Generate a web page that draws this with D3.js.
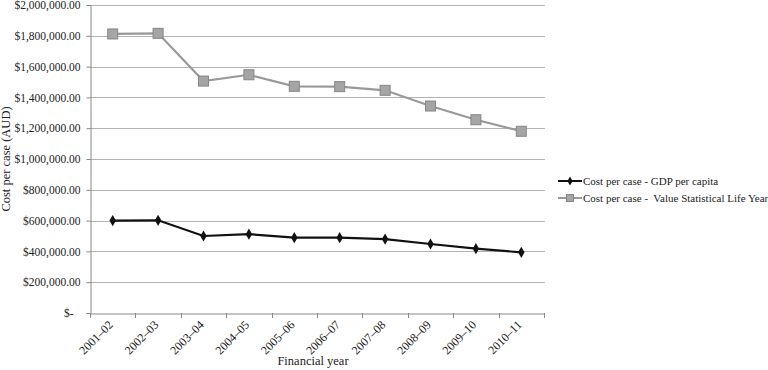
<!DOCTYPE html>
<html><head><meta charset="utf-8">
<script src="https://cdn.jsdelivr.net/npm/d3@7"></script>
<style>body{margin:0;background:#fff;}</style>
</head><body>
<svg id="c" width="768" height="370"></svg>
<script>
const categories = ["2001–02","2002–03","2003–04","2004–05","2005–06","2006–07","2007–08","2008–09","2009–10","2010–11"];
const gdpValues = [600000,602000,500000,512000,489000,489000,480000,448000,418000,394000];
const vslyValues = [1812000,1816000,1506000,1547000,1472000,1470000,1446000,1344000,1255000,1180000];
const yTicks = [0,200000,400000,600000,800000,1000000,1200000,1400000,1600000,1800000,2000000];
const seriesNames = ["Cost per case - GDP per capita","Cost per case -  Value Statistical Life Year"];

(function(){
const FONT = '"Liberation Serif","Times New Roman",serif';
const svg = d3.select("#c");
const pLeft = 90, pRight = 544, pTop = 5, pBottom = 313;
const x = d3.scaleBand().domain(categories).range([pLeft, pRight]);
const y = d3.scaleLinear().domain([0, 2000000]).range([pBottom, pTop]);

// gridlines
svg.append("g").selectAll("line").data(yTicks.filter(d=>d>0)).join("line")
  .attr("x1", pLeft).attr("x2", pRight+1)
  .attr("y1", d=>Math.round(y(d))+0.5).attr("y2", d=>Math.round(y(d))+0.5)
  .attr("stroke", "#b3b3b3").attr("stroke-width", 1);

const fmt = d => d === 0 ? "$-" : "$" + d3.format(",.2f")(d);
const yAxis = svg.append("g").attr("transform", `translate(${pLeft+0.5},0)`)
  .call(d3.axisLeft(y).tickValues(yTicks).tickFormat(fmt).tickSize(4).tickPadding(6));
yAxis.select(".domain").attr("stroke", "#888");
yAxis.selectAll(".tick line").attr("stroke", "#888");
yAxis.selectAll("text").attr("font-size", 11.5).attr("fill", "#222")
  .style("font-family", FONT)
  .filter(d=>d===0).attr("dx", -7);

const xAxis = svg.append("g").attr("transform", `translate(0,${pBottom+0.5})`)
  .call(d3.axisBottom(x).tickSize(0).tickFormat(d=>d));
xAxis.select(".domain").attr("stroke", "#888");
xAxis.selectAll(".tick text")
  .attr("font-size", 12).attr("fill", "#222").style("font-family", FONT)
  .attr("text-anchor", "end").attr("dy", 0)
  .attr("transform", "translate(-1,10) rotate(-45)");
// boundary tick marks
const bounds = categories.map(c=>x(c)).concat([pRight]);
svg.append("g").selectAll("line").data(bounds).join("line")
  .attr("x1", d=>Math.round(d)+0.5).attr("x2", d=>Math.round(d)+0.5)
  .attr("y1", pBottom).attr("y2", pBottom+5).attr("stroke", "#888");

const cx = c => x(c) + x.bandwidth()/2;
const line = d3.line().x((d,i)=>cx(categories[i])).y(d=>y(d));

// VSLY
svg.append("path").datum(vslyValues).attr("d", line).attr("fill","none")
  .attr("stroke","#999").attr("stroke-width",2.2);
svg.append("g").selectAll("rect").data(vslyValues).join("rect")
  .attr("x",(d,i)=>cx(categories[i])-5).attr("y",d=>y(d)-5)
  .attr("width",10).attr("height",10).attr("fill","#a5a5a5").attr("stroke","#868686");

// GDP
svg.append("path").datum(gdpValues).attr("d", line).attr("fill","none")
  .attr("stroke","#111").attr("stroke-width",2.2);
const diamond = d3.symbol().type(d3.symbolDiamond).size(36);
svg.append("g").selectAll("path").data(gdpValues).join("path")
  .attr("d", diamond).attr("transform",(d,i)=>`translate(${cx(categories[i])},${y(d)})`)
  .attr("fill","#111");

// axis titles
svg.append("text").attr("transform","translate(10,159) rotate(-90)").style("font-family", FONT)
  .attr("text-anchor","middle").attr("font-size",12.5).attr("fill","#222").text("Cost per case (AUD)");
svg.append("text").attr("x",313).attr("y",365).attr("text-anchor","middle").style("font-family", FONT)
  .attr("font-size",12.5).attr("fill","#222").text("Financial year");

// legend
const lg = svg.append("g");
const ly = [181, 198];
const diamondSm = d3.symbol().type(d3.symbolDiamond).size(24);
lg.append("line").attr("x1",558).attr("x2",582).attr("y1",ly[0]).attr("y2",ly[0]).attr("stroke","#111").attr("stroke-width",2);
lg.append("path").attr("d",diamondSm).attr("transform",`translate(570,${ly[0]})`).attr("fill","#111");
lg.append("line").attr("x1",558).attr("x2",582).attr("y1",ly[1]).attr("y2",ly[1]).attr("stroke","#999").attr("stroke-width",2);
lg.append("rect").attr("x",566.5).attr("y",ly[1]-3.5).attr("width",7).attr("height",7).attr("fill","#a5a5a5").attr("stroke","#868686");
seriesNames.forEach((s,i)=>{
  lg.append("text").attr("x",583).attr("y",ly[i]+4).attr("font-size",11).attr("fill","#222")
    .style("font-family", FONT).style("white-space","pre").text(s);
});
})();
</script>
</body></html>
